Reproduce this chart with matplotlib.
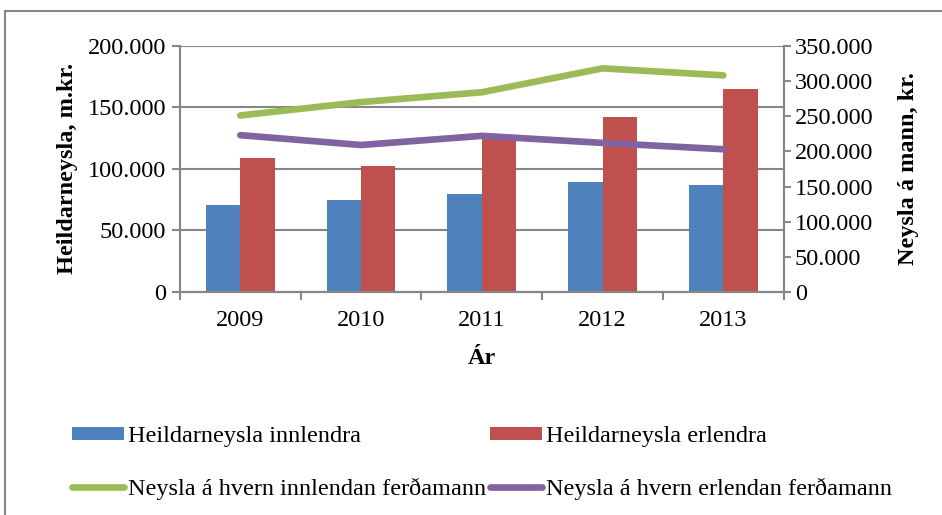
import matplotlib
matplotlib.use("Agg")
import matplotlib.pyplot as plt
import matplotlib.patches as patches
from matplotlib.ticker import FuncFormatter, FixedLocator
import numpy as np

plt.rcParams['font.family'] = ['Liberation Serif', 'DejaVu Serif']

# Data
years = ["2009", "2010", "2011", "2012", "2013"]
heild_innl = [71000, 75000, 80000, 89000, 87000]
heild_erl = [109000, 102000, 125000, 142000, 165000]
mann_innl = [251000, 270000, 284000, 318000, 308000]
mann_erl = [223000, 209000, 222000, 212000, 203000]

blue = '#4F81BD'
red = '#C0504D'
green = '#9BBB59'
purple = '#8064A2'
gray = '#878787'
fs = 17.5


def dotfmt(v, pos=None):
    return f"{v:,.0f}".replace(",", ".")


fig = plt.figure(figsize=(9.42, 5.15), dpi=100)
ax = fig.add_axes([0.191, 0.433, 0.641, 0.478])
ax2 = ax.twinx()

x = np.arange(len(years))
w = 0.285
ax.bar(x - w / 2, heild_innl, w, color=blue, zorder=3, label='Heildarneysla innlendra')
ax.bar(x + w / 2, heild_erl, w, color=red, zorder=3, label='Heildarneysla erlendra')

ax2.plot(x, mann_innl, color=green, lw=4.8, solid_capstyle='round',
         label='Neysla á hvern innlendan ferðamann')
ax2.plot(x, mann_erl, color=purple, lw=4.8, solid_capstyle='round',
         label='Neysla á hvern erlendan ferðamann')

ax.set_xlim(-0.5, len(years) - 0.5)
ax.set_ylim(0, 200000)
ax2.set_ylim(0, 350000)
ax.set_yticks(np.arange(0, 200001, 50000))
ax2.set_yticks(np.arange(0, 350001, 50000))
ax.yaxis.set_major_formatter(FuncFormatter(dotfmt))
ax2.yaxis.set_major_formatter(FuncFormatter(dotfmt))

ax.set_xticks(x)
ax.set_xticklabels(years)
ax.xaxis.set_minor_locator(FixedLocator(np.arange(-0.5, len(years), 1)))
ax.tick_params(axis='x', which='major', length=0, pad=13, labelsize=fs)
ax.tick_params(axis='x', which='minor', length=6, width=1.5, color=gray)
ax.tick_params(axis='y', length=6, width=1.5, color=gray, labelsize=fs, pad=4)
ax2.tick_params(axis='y', length=5, width=1.5, color=gray, labelsize=fs, pad=3)

ax.grid(axis='y', color=gray, lw=1.5, zorder=0)
ax.set_axisbelow(True)
for a in (ax, ax2):
    for s in a.spines.values():
        s.set_color(gray)
        s.set_linewidth(1.5)
ax.spines['top'].set_visible(False)
ax2.spines['top'].set_visible(False)

ax.set_ylabel("Heildarneysla, m.kr.", fontsize=fs, fontweight='bold')
ax.yaxis.set_label_coords(-0.168, 0.5)
ax2.set_ylabel("Neysla á mann, kr.", fontsize=fs, fontweight='bold', rotation=90)
ax2.yaxis.set_label_coords(1.19, 0.5)
ax.set_xlabel("Ár", fontsize=fs, fontweight='bold')
ax.xaxis.set_label_coords(0.5, -0.272)
ax.xaxis.label.set_va('center')

# Legend (rows: bars, then lines)
h1, l1 = ax.get_legend_handles_labels()
h2, l2 = ax2.get_legend_handles_labels()
handles = [h1[0], h2[0], h1[1], h2[1]]
labels = [l1[0], l2[0], l1[1], l2[1]]
fig.legend(handles, labels, ncol=2, frameon=False, fontsize=fs,
           loc='upper left', bbox_to_anchor=(72 / 942, 1 - 426 / 515),
           borderpad=0, borderaxespad=0,
           handlelength=2.15, handleheight=0.45, handletextpad=0.15,
           columnspacing=0.15, labelspacing=1.25)

# Outer frame of the chart area
fig.patches.append(patches.Rectangle((5 / 942, -0.1), 1.2, 1.1 - 11 / 515,
                                     transform=fig.transFigure, fill=False,
                                     edgecolor=gray, lw=1.5))

fig.savefig("out.png", dpi=100)
